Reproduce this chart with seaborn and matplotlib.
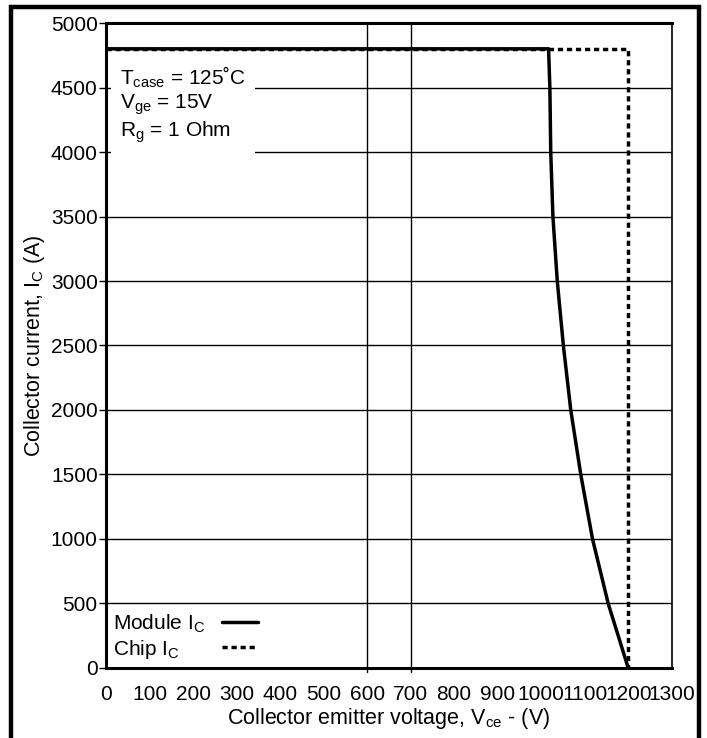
import matplotlib
matplotlib.use("Agg")
import matplotlib.pyplot as plt
import matplotlib.patches as mpatches
import seaborn as sns
import pandas as pd

# ---- data ----
module_vce = [0, 1017, 1020, 1022, 1027, 1037, 1051, 1068, 1091, 1118, 1154, 1200]
module_ic = [4800, 4800, 4500, 4000, 3500, 3000, 2500, 2000, 1500, 1000, 500, 0]
chip_vce = [0, 1200, 1200]
chip_ic = [4800, 4800, 0]
x_ticks = [0, 100, 200, 300, 400, 500, 600, 700, 800, 900, 1000, 1100, 1200, 1300]
y_ticks = [0, 500, 1000, 1500, 2000, 2500, 3000, 3500, 4000, 4500, 5000]
v_grid = [600, 700]
annot_lines = [r"T$_{\mathrm{case}}$ = 125˚C", r"V$_{\mathrm{ge}}$ = 15V", r"R$_{\mathrm{g}}$ = 1 Ohm"]
series_names = [r"Module I$_{\mathrm{C}}$", r"Chip I$_{\mathrm{C}}$"]

sns.set_theme(style="white")
plt.rcParams["font.family"] = ["Liberation Sans", "DejaVu Sans"]
plt.rcParams["mathtext.fontset"] = "custom"
plt.rcParams["mathtext.rm"] = "Liberation Sans"
plt.rcParams["mathtext.it"] = "Liberation Sans:italic"
plt.rcParams["mathtext.bf"] = "Liberation Sans:bold"
plt.rcParams["text.color"] = "black"

FS = 15

fig = plt.figure(figsize=(7.07, 7.38), dpi=100)
ax = fig.add_axes([0.1499, 0.0949, 0.8002, 0.8739])

df_mod = pd.DataFrame({"vce": module_vce, "ic": module_ic})
df_chip = pd.DataFrame({"vce": chip_vce, "ic": chip_ic})

sns.lineplot(data=df_chip, x="vce", y="ic", sort=False, estimator=None, ax=ax,
             color="black", lw=2.5, label=series_names[1], zorder=3)
ax.lines[-1].set_dashes([1.5, 1.1])
sns.lineplot(data=df_mod, x="vce", y="ic", sort=False, estimator=None, ax=ax,
             color="black", lw=2.5, label=series_names[0], zorder=4)

ax.set_xlim(0, 1300)
ax.set_ylim(0, 5000)
ax.set_xticks(x_ticks)
ax.set_yticks(y_ticks)
ax.tick_params(axis="x", length=0, pad=12, labelsize=FS, colors="black")
ax.tick_params(axis="y", length=5, width=1, direction="out", pad=1, labelsize=FS, colors="black", left=True)

for yv in y_ticks[1:-1]:
    ax.axhline(yv, color="black", lw=1, zorder=1)
for xv in v_grid:
    ax.axvline(xv, ymin=-0.006, ymax=1, color="black", lw=1, zorder=1, clip_on=False)

for side in ["left", "top", "bottom"]:
    ax.spines[side].set_linewidth(2.2)
    ax.spines[side].set_color("black")
ax.spines["right"].set_linewidth(1.2)
ax.spines["right"].set_color("black")

ax.set_xlabel(r"Collector emitter voltage, V$_{\mathrm{ce}}$ - (V)", fontsize=15.5, color="black", labelpad=2)
ax.set_ylabel(r"Collector current, I$_{\mathrm{C}}$ (A)", fontsize=15.5, color="black", labelpad=3)

ax.text(0.0247, 0.936, "\n".join(annot_lines), transform=ax.transAxes, fontsize=FS,
        va="top", ha="left", linespacing=1.15, zorder=2.2, color="black",
        bbox=dict(facecolor="white", edgecolor="none", pad=6.5))

handles, labels = ax.get_legend_handles_labels()
order = [labels.index(series_names[0]), labels.index(series_names[1])]
leg = ax.legend([handles[i] for i in order], [labels[i] for i in order],
                loc="lower left", bbox_to_anchor=(0.0, 0.0), frameon=False, markerfirst=False,
                fontsize=FS, handlelength=1.7, handletextpad=0.8, labelspacing=0.15,
                borderaxespad=0.0, borderpad=0.35)
for t in leg.get_texts():
    t.set_color("black")

# left-align legend labels while keeping the keys aligned on the right
fig.canvas.draw()
renderer = fig.canvas.get_renderer()
col = leg._legend_handle_box.get_children()[0]
col.align = "left"
rows = col.get_children()
widths = [row.get_children()[0].get_bbox(renderer).width for row in rows]
maxw = max(widths)
p2px = renderer.points_to_pixels(1.0)
for row, w in zip(rows, widths):
    row.sep = row.sep + (maxw - w) / p2px

fig.patches.append(mpatches.Rectangle((11 / 707, -0.02), (699 - 11) / 707, 1.02 - 7 / 738,
                                      transform=fig.transFigure, fill=False,
                                      edgecolor="black", lw=3.2, zorder=10))

fig.savefig("out.png", dpi=100, facecolor="white")
